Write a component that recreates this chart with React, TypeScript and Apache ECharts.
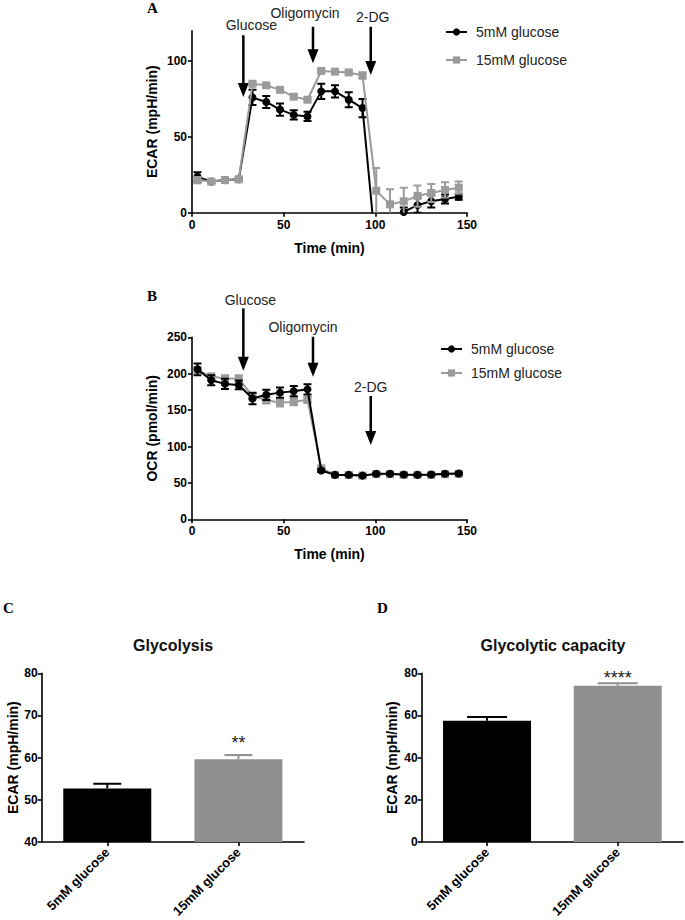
import React, { useEffect, useRef } from "react";
import * as echarts from "echarts";

// ---------- data ----------
const timeMin = [3, 10.5, 18, 25.5, 33, 40.5, 48, 55.5, 63, 70.5, 78, 85.5, 93, 100.5, 108, 115.5, 123, 130.5, 138, 145.5];

const ecar5 = [23.7, 20.5, 21.5, 22, 76, 73, 68, 64.5, 63.5, 80, 80, 74.5, 69, -27, -10, 0.5, 5, 7.5, 9, 10.5];
const ecar5Err = [3, 1, 1, 1, 5, 4, 4, 3, 3, 5, 4, 5, 6, 0, 0, 3, 5, 4, 3, 2];
const ecar15 = [21.5, 20.5, 21.5, 22, 85, 84, 81, 76.5, 74.5, 93.5, 93, 92.5, 90.5, 14.5, 5.5, 7.5, 11, 13, 15, 16.5];
const ecar15Err = [2, 1, 1, 1, 1, 1, 1, 1, 1, 1, 1, 1, 2, 15, 10, 9, 7, 6, 5, 4];

const ocr5 = [206, 191, 186, 184.5, 166, 171, 174, 176, 178.5, 67, 61, 61, 60, 62.5, 62.5, 61.5, 61, 61.5, 62.5, 63];
const ocr5Err = [8, 7, 7, 6, 8, 7, 7, 7, 7, 2, 1.5, 1.5, 1.5, 1.5, 1.5, 1.5, 1.5, 1.5, 1.5, 1.5];
const ocr15 = [205, 196, 193.5, 193.5, 169, 164, 160, 161.5, 164, 70, 61, 61, 60, 62, 62, 61, 61, 61, 62, 62.5];
const ocr15Err = [4, 4, 4, 4, 4, 5, 5, 5, 4, 2, 1, 1, 1, 1, 1, 1, 1, 1, 1, 1];

const barCategories = ["5mM glucose", "15mM glucose"];
const glycolysis = [52.7, 59.6];
const glycolysisErr = [1.1, 1.0];
const glycolysisStars = ["", "**"];
const capacity = [57.5, 74.1];
const capacityErr = [1.8, 1.2];
const capacityStars = ["", "****"];

const seriesNames = ["5mM glucose", "15mM glucose"];

const ecarTicks = [0, 50, 100];
const ocrTicks = [0, 50, 100, 150, 200, 250];

// injections: time, arrow top value, arrow tip value
const ecarArrows = [
  { label: "Glucose", t: 28, top: 117, tip: 76.3, dx: 8, dy: -10 },
  { label: "Oligomycin", t: 66, top: 122.6, tip: 98.5, dx: -8, dy: -14 },
  { label: "2-DG", t: 97.5, top: 122.6, tip: 90.8, dx: 2, dy: -10 },
];
const ocrArrows = [
  { label: "Glucose", t: 28, top: 289.8, tip: 204, dx: 7, dy: -8 },
  { label: "Oligomycin", t: 66, top: 250.8, tip: 195.9, dx: -10, dy: -10 },
  { label: "2-DG", t: 97.5, top: 169.4, tip: 102, dx: 0, dy: -9 },
];

// ---------- style ----------
const FONT = "'Liberation Sans', Arial, Helvetica, sans-serif";
const SERIF = "'Liberation Serif', 'Times New Roman', serif";
const BLACK = "#000000";
const GRAY = "#9b9b9b";
const BAR_GRAY = "#8f8f8f";

const axisLine = { show: true, lineStyle: { color: BLACK, width: 1.6 } };
const axisTick = { show: true, length: 4, inside: false, lineStyle: { color: BLACK, width: 1.6 } };
const tickLabel = { color: BLACK, fontFamily: FONT, fontWeight: "bold", fontSize: 12 };

function errSeries(name: string, gi: number, xs: number[], ys: number[], errs: number[], color: string, capHalf: number, z: number) {
  return {
    type: "custom",
    name,
    xAxisIndex: gi,
    yAxisIndex: gi,
    clip: true,
    silent: true,
    z,
    data: xs.map((x, i) => [x, ys[i] - errs[i], ys[i] + errs[i], errs[i]]),
    renderItem: (params: any, api: any) => {
      if (api.value(3) <= 0) return null;
      const lo = api.coord([api.value(0), api.value(1)]);
      const hi = api.coord([api.value(0), api.value(2)]);
      const style = { stroke: color, lineWidth: 2 };
      return {
        type: "group",
        children: [
          { type: "line", shape: { x1: lo[0], y1: lo[1], x2: hi[0], y2: hi[1] }, style },
          { type: "line", shape: { x1: hi[0] - capHalf, y1: hi[1], x2: hi[0] + capHalf, y2: hi[1] }, style },
          { type: "line", shape: { x1: lo[0] - capHalf, y1: lo[1], x2: lo[0] + capHalf, y2: lo[1] }, style },
        ],
      };
    },
  };
}

function barErrSeries(gi: number, ys: number[], errs: number[], colors: string[], capHalf: number) {
  return {
    type: "custom",
    name: "barErr" + gi,
    xAxisIndex: gi,
    yAxisIndex: gi,
    silent: true,
    z: 3,
    data: ys.map((y, i) => [i, y, y + errs[i]]),
    renderItem: (params: any, api: any) => {
      const i = api.value(0);
      const lo = api.coord([i, api.value(1)]);
      const hi = api.coord([i, api.value(2)]);
      const style = { stroke: colors[params.dataIndex], lineWidth: 2 };
      return {
        type: "group",
        children: [
          { type: "line", shape: { x1: lo[0], y1: lo[1], x2: hi[0], y2: hi[1] }, style },
          { type: "line", shape: { x1: hi[0] - capHalf, y1: hi[1], x2: hi[0] + capHalf, y2: hi[1] }, style },
        ],
      };
    },
  };
}

function lineSeries(name: string, gi: number, ys: number[], color: string, symbol: string, z: number) {
  return {
    type: "line",
    name,
    xAxisIndex: gi,
    yAxisIndex: gi,
    data: timeMin.map((t, i) => [t, ys[i]]),
    symbol,
    symbolSize: 8,
    showSymbol: true,
    clip: true,
    z,
    itemStyle: { color },
    lineStyle: { color, width: 2 },
  };
}

function timeXAxis(gi: number) {
  return {
    type: "value",
    gridIndex: gi,
    min: 0,
    max: 150,
    interval: 50,
    splitLine: { show: false },
    axisLine: { ...axisLine, onZero: false },
    axisTick,
    axisLabel: { ...tickLabel, margin: 6 },
    name: "Time (min)",
    nameLocation: "middle",
    nameGap: 28,
    nameTextStyle: { color: BLACK, fontFamily: FONT, fontWeight: "bold", fontSize: 14 },
  };
}

function valueYAxis(gi: number, name: string, min: number, max: number, interval: number, ticks: number[] | null, nameGap: number, margin: number) {
  const ax: any = {
    type: "value",
    gridIndex: gi,
    min,
    max,
    interval,
    splitLine: { show: false },
    axisLine,
    axisTick: { ...axisTick },
    axisLabel: { ...tickLabel, margin },
    name,
    nameLocation: "middle",
    nameGap,
    nameRotate: 90,
    nameTextStyle: { color: BLACK, fontFamily: FONT, fontWeight: "bold", fontSize: 14 },
  };
  if (ticks) {
    ax.axisTick.customValues = ticks;
    ax.axisLabel.customValues = ticks;
  }
  return ax;
}

function catXAxis(gi: number) {
  return {
    type: "category",
    gridIndex: gi,
    data: barCategories,
    axisLine,
    axisTick: { ...axisTick, alignWithLabel: true },
    axisLabel: { ...tickLabel, fontSize: 13, rotate: 45, margin: 8, interval: 0 },
    splitLine: { show: false },
  };
}

export default function App() {
  const ref = useRef<HTMLDivElement>(null);

  useEffect(() => {
    document.body.style.margin = "0";
    if (!ref.current) return;
    const chart = echarts.init(ref.current, undefined, { renderer: "svg" });

    const option: any = {
      animation: false,
      backgroundColor: "#ffffff",
      grid: [
        { left: 192, top: 30.7, width: 275, height: 182 },
        { left: 192, top: 337.3, width: 275, height: 182 },
        { left: 41.7, top: 673.3, width: 262.3, height: 171.7 },
        { left: 421.7, top: 673.3, width: 261.3, height: 171.7 },
      ],
      xAxis: [timeXAxis(0), timeXAxis(1), catXAxis(2), catXAxis(3)],
      yAxis: [
        valueYAxis(0, "ECAR (mpH/min)", 0, 120, 50, ecarTicks, 33, 5),
        valueYAxis(1, "OCR (pmol/min)", 0, 250, 50, ocrTicks, 33, 5),
        valueYAxis(2, "ECAR (mpH/min)", 40, 80, 10, null, 21, 4),
        valueYAxis(3, "ECAR (mpH/min)", 0, 80, 20, null, 23, 4),
      ],
      legend: [
        {
          data: seriesNames,
          orient: "vertical",
          left: 440,
          top: 20,
          itemWidth: 21,
          itemHeight: 9,
          itemGap: 14,
          selectedMode: false,
          textStyle: { color: "#222", fontFamily: FONT, fontSize: 14, padding: [0, 0, 0, 4] },
        },
        {
          data: seriesNames,
          orient: "vertical",
          left: 435,
          top: 337,
          itemWidth: 21,
          itemHeight: 9,
          itemGap: 10,
          selectedMode: false,
          textStyle: { color: "#222", fontFamily: FONT, fontSize: 14, padding: [0, 0, 0, 4] },
        },
      ],
      series: [
        // Panel A (gray on top)
        errSeries("e5a", 0, timeMin, ecar5, ecar5Err, BLACK, 4, 2),
        lineSeries(seriesNames[0], 0, ecar5, BLACK, "circle", 3),
        errSeries("e15a", 0, timeMin, ecar15, ecar15Err, GRAY, 4, 4),
        lineSeries(seriesNames[1], 0, ecar15, GRAY, "rect", 5),
        // Panel B (black on top)
        errSeries("e15b", 1, timeMin, ocr15, ocr15Err, GRAY, 4, 2),
        lineSeries(seriesNames[1], 1, ocr15, GRAY, "rect", 3),
        errSeries("e5b", 1, timeMin, ocr5, ocr5Err, BLACK, 4, 4),
        lineSeries(seriesNames[0], 1, ocr5, BLACK, "circle", 5),
        // Panel C
        {
          type: "bar",
          name: "glycolysis",
          xAxisIndex: 2,
          yAxisIndex: 2,
          barWidth: 88,
          data: glycolysis.map((v, i) => ({ value: v, itemStyle: { color: i === 0 ? BLACK : BAR_GRAY } })),
          z: 2,
        },
        barErrSeries(2, glycolysis, glycolysisErr, [BLACK, BAR_GRAY], 14),
        // Panel D
        {
          type: "bar",
          name: "capacity",
          xAxisIndex: 3,
          yAxisIndex: 3,
          barWidth: 88,
          data: capacity.map((v, i) => ({ value: v, itemStyle: { color: i === 0 ? BLACK : BAR_GRAY } })),
          z: 2,
        },
        barErrSeries(3, capacity, capacityErr, [BLACK, BAR_GRAY], 20),
      ],
    };
    chart.setOption(option);

    const px = (gi: number, pt: number[]) => chart.convertToPixel({ gridIndex: gi } as any, pt) as number[];

    const graphics: any[] = [];
    const arrowFor = (gi: number, arrows: typeof ecarArrows) => {
      arrows.forEach((a) => {
        const top = px(gi, [a.t, a.top]);
        const tip = px(gi, [a.t, a.tip]);
        const headLen = 14;
        const headHalf = 5.5;
        graphics.push({
          type: "line",
          shape: { x1: top[0], y1: top[1], x2: tip[0], y2: tip[1] - headLen + 2 },
          style: { stroke: BLACK, lineWidth: 2.5 },
          silent: true,
        });
        graphics.push({
          type: "polygon",
          shape: { points: [[tip[0] - headHalf, tip[1] - headLen], [tip[0] + headHalf, tip[1] - headLen], [tip[0], tip[1]]] },
          style: { fill: BLACK },
          silent: true,
        });
        graphics.push({
          type: "text",
          x: top[0] + a.dx,
          y: top[1] + a.dy,
          style: { text: a.label, font: `14px ${FONT}`, fill: "#222", align: "center", verticalAlign: "middle" },
          silent: true,
        });
      });
    };
    arrowFor(0, ecarArrows);
    arrowFor(1, ocrArrows);

    const starsFor = (gi: number, vals: number[], errs: number[], stars: string[], gap: number) => {
      vals.forEach((v, i) => {
        if (!stars[i]) return;
        const p = px(gi, [i, v + errs[i]]);
        graphics.push({
          type: "text",
          x: p[0],
          y: p[1] - gap,
          style: { text: stars[i], font: `18px ${FONT}`, fill: "#222", align: "center", verticalAlign: "middle" },
          silent: true,
        });
      });
    };
    starsFor(2, glycolysis, glycolysisErr, glycolysisStars, 12);
    starsFor(3, capacity, capacityErr, capacityStars, 5);

    const panelLabel = (t: string, x: number, y: number) =>
      graphics.push({
        type: "text",
        x,
        y,
        style: { text: t, font: `bold 15px ${SERIF}`, fill: BLACK, align: "left", verticalAlign: "middle" },
        silent: true,
      });
    panelLabel("A", 147, 8);
    panelLabel("B", 147, 296);
    panelLabel("C", 3, 608);
    panelLabel("D", 377, 608);

    const title = (t: string, x: number, y: number) =>
      graphics.push({
        type: "text",
        x,
        y,
        style: { text: t, font: `bold 16px ${FONT}`, fill: "#111", align: "center", verticalAlign: "middle" },
        silent: true,
      });
    title("Glycolysis", 173, 645);
    title("Glycolytic capacity", 553, 645);

    chart.setOption({ graphic: graphics });

    return () => {
      chart.dispose();
    };
  }, []);

  return <div ref={ref} style={{ width: 685, height: 920 }} />;
}
